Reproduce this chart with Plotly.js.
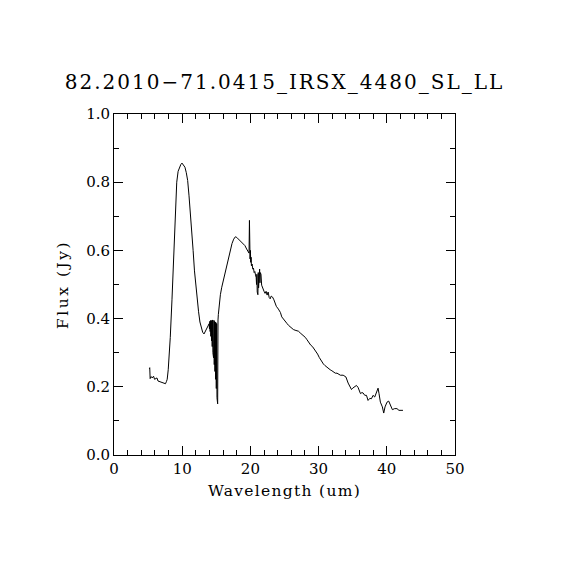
<!DOCTYPE html>
<html>
<head>
<meta charset="utf-8">
<script src="https://cdn.plot.ly/plotly-3.0.1.min.js"></script>
<style>
html,body{margin:0;padding:0;background:#fff;}
#chart{width:570px;height:570px;}
.gtitle{letter-spacing:2px;}
.g-xtitle text{letter-spacing:1.3px;}
.g-ytitle text{letter-spacing:2.5px;}
</style>
</head>
<body>
<div id="chart"></div>
<script>
const chartTitle = "82.2010\u221271.0415_IRSX_4480_SL_LL";
const xLabel = "Wavelength (um)";
const yLabel = "Flux (Jy)";

const wave = [
5.19,5.24,5.30,5.45,5.60,5.80,5.95,6.10,6.30,6.45,6.60,6.80,7.00,7.20,7.40,7.55,7.70,7.80,7.95,8.05,
8.25,8.50,8.75,9.00,9.20,9.40,9.60,9.80,9.97,10.15,10.40,10.60,10.80,11.00,11.20,11.40,11.60,11.80,12.00,12.20,
12.40,12.60,12.80,13.00,13.20,13.40,13.60,13.80,13.95,14.00,
14.05,14.10,14.15,14.20,14.25,14.30,14.35,14.40,14.45,14.50,14.55,14.60,14.65,14.70,14.75,14.80,14.85,14.90,14.95,15.00,15.05,15.10,15.15,15.20,15.25,
15.30,15.45,15.60,15.80,16.05,16.30,16.55,16.80,17.05,17.30,17.55,17.80,18.00,18.20,18.45,18.70,18.95,19.20,19.45,19.65,19.80,19.86,19.92,
19.95,20.00,20.05,20.10,20.15,20.25,20.35,20.45,20.55,20.65,20.75,
20.85,20.90,20.95,21.00,21.05,21.10,21.15,21.20,21.25,21.30,21.35,21.40,21.45,21.50,21.55,21.65,21.80,22.00,22.15,22.30,22.45,22.60,22.75,22.90,
23.05,23.25,23.45,23.60,23.80,24.10,24.40,24.60,24.85,25.10,25.35,25.60,25.85,26.05,26.30,26.55,26.80,27.05,27.30,27.55,27.80,28.05,28.30,28.55,
28.85,29.10,29.35,29.60,29.85,30.10,30.40,30.70,30.95,31.20,31.45,31.70,31.95,32.20,32.45,32.70,32.95,33.20,33.60,34.00,34.33,34.60,34.82,35.00,
35.16,35.40,35.55,35.79,35.95,36.14,36.35,36.52,36.77,37.02,37.25,37.50,37.75,37.98,38.23,38.48,38.72,38.86,39.06,39.35,39.55,39.74,40.03,40.28,
40.53,40.82,41.15,41.49,41.78,42.10,42.37
];
const flux = [
0.253,0.256,0.224,0.230,0.226,0.231,0.222,0.224,0.226,0.217,0.216,0.215,0.214,0.212,0.210,0.209,0.216,0.222,0.250,0.275,
0.345,0.455,0.575,0.705,0.800,0.832,0.843,0.852,0.856,0.850,0.844,0.828,0.805,0.760,0.712,0.660,0.600,0.540,0.495,0.455,
0.420,0.390,0.370,0.360,0.355,0.362,0.370,0.378,0.385,0.370,
0.392,0.362,0.394,0.348,0.395,0.335,0.393,0.318,0.396,0.300,0.390,0.285,0.395,0.265,0.392,0.245,0.390,0.222,0.388,0.195,0.385,0.168,0.392,0.150,0.396,
0.412,0.445,0.470,0.492,0.513,0.535,0.560,0.578,0.602,0.620,0.633,0.640,0.638,0.634,0.628,0.624,0.620,0.614,0.604,0.597,0.592,0.688,0.585,
0.575,0.600,0.565,0.580,0.555,0.560,0.545,0.548,0.535,0.538,0.528,
0.520,0.500,0.530,0.478,0.525,0.470,0.535,0.490,0.528,0.500,0.545,0.505,0.535,0.510,0.530,0.498,0.488,0.480,0.474,0.480,0.469,0.478,0.462,0.458,
0.466,0.463,0.455,0.445,0.436,0.428,0.418,0.405,0.398,0.390,0.386,0.380,0.376,0.371,0.368,0.366,0.365,0.363,0.358,0.354,0.350,0.345,0.338,0.330,
0.322,0.318,0.311,0.304,0.296,0.286,0.276,0.267,0.262,0.257,0.252,0.250,0.247,0.244,0.240,0.240,0.237,0.234,0.234,0.229,0.211,0.200,0.192,0.196,
0.199,0.203,0.204,0.198,0.190,0.180,0.183,0.182,0.175,0.175,0.160,0.166,0.165,0.175,0.170,0.185,0.196,0.180,0.155,0.141,0.123,0.141,0.155,0.158,
0.146,0.133,0.136,0.136,0.131,0.131,0.131
];

const xTicks = [0,10,20,30,40,50];
const xTickText = ["0","10","20","30","40","50"];
const yTicks = [0.0,0.2,0.4,0.6,0.8,1.0];
const yTickText = ["0.0","0.2","0.4","0.6","0.8","1.0"];

const fontFam = "DejaVu Serif, Liberation Serif, serif";

const trace = {
  x: wave, y: flux, type: 'scatter', mode: 'lines',
  line: {color: '#000', width: 1, shape: 'linear'},
  hoverinfo: 'skip'
};

const layout = {
  width: 570, height: 570,
  margin: {l: 114, r: 115, t: 114, b: 115, pad: 0},
  paper_bgcolor: '#fff', plot_bgcolor: '#fff',
  showlegend: false,
  title: {
    text: chartTitle,
    font: {family: fontFam, size: 20, color: '#000'},
    x: 0.5, xref: 'paper', xanchor: 'center',
    y: 1 - 82/570, yref: 'container', yanchor: 'middle'
  },
  xaxis: {
    range: [0, 50], showgrid: false, zeroline: false,
    showline: true, linecolor: '#000', linewidth: 1, mirror: 'allticks',
    ticks: 'inside', ticklen: 9, tickwidth: 1, tickcolor: '#000',
    tickmode: 'array', tickvals: xTicks, ticktext: xTickText,
    tickfont: {family: fontFam, size: 15, color: '#000'},
    minor: {dtick: 2, ticks: 'inside', ticklen: 5, tickwidth: 1, tickcolor: '#000', showgrid: false},
    title: {text: xLabel, font: {family: fontFam, size: 15.5, color: '#000'}, standoff: 8}
  },
  yaxis: {
    range: [0, 1], showgrid: false, zeroline: false,
    showline: true, linecolor: '#000', linewidth: 1, mirror: 'allticks',
    ticks: 'inside', ticklen: 9, tickwidth: 1, tickcolor: '#000',
    tickmode: 'array', tickvals: yTicks, ticktext: yTickText,
    tickfont: {family: fontFam, size: 15, color: '#000'},
    minor: {dtick: 0.1, ticks: 'inside', ticklen: 5, tickwidth: 1, tickcolor: '#000', showgrid: false},
    title: {text: yLabel, font: {family: fontFam, size: 15.5, color: '#000'}, standoff: 13}
  }
};

Plotly.newPlot('chart', [trace], layout, {staticPlot: true, displayModeBar: false});
</script>
</body>
</html>
